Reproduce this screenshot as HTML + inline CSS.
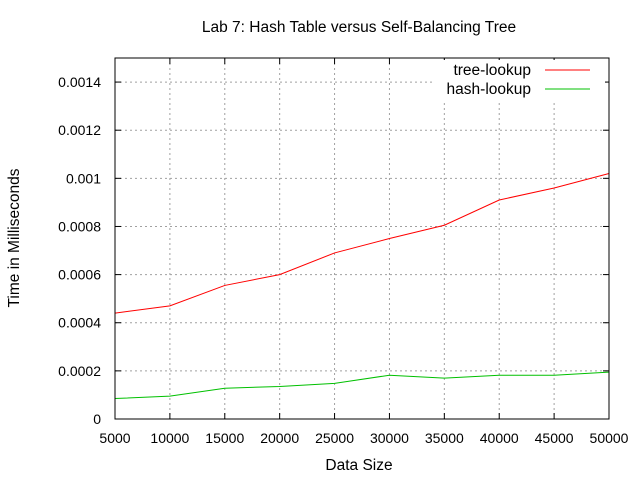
<!DOCTYPE html>
<html><head><style>
body{margin:0;background:#fff;}
svg text{font-family:"Liberation Sans",sans-serif;font-size:14px;fill:#000;}
svg text.big{font-size:15.5px;}
</style></head><body>
<svg id="chart" width="640" height="480">
<text class="big" x="359" y="32" text-anchor="middle">Lab 7: Hash Table versus Self-Balancing Tree</text>
<text class="big" x="359" y="470" text-anchor="middle">Data Size</text>
<text class="big" transform="translate(19,238) rotate(-90)" text-anchor="middle">Time in Milliseconds</text>
<g id="grid"></g><g id="series"></g>
<g>
<text class="big" x="531" y="75" text-anchor="end">tree-lookup</text>
<line x1="545" y1="70" x2="590" y2="70" stroke="#f00"/>
<text class="big" x="531" y="94" text-anchor="end">hash-lookup</text>
<line x1="545" y1="89" x2="590" y2="89" stroke="#00c000"/>
</g>
<rect x="115" y="58" width="494" height="361" fill="none" stroke="#000"/>
</svg>
<script>
const sizes=[5000,10000,15000,20000,25000,30000,35000,40000,45000,50000];
const treeVals=[0.00044,0.00047,0.000555,0.0006,0.00069,0.00075,0.000805,0.00091,0.00096,0.00102];
const hashVals=[0.000085,0.000095,0.000128,0.000135,0.000148,0.000182,0.00017,0.000182,0.000182,0.000195];
const yTicks=[0,0.0002,0.0004,0.0006,0.0008,0.001,0.0012,0.0014];
const yTickLabels=["0","0.0002","0.0004","0.0006","0.0008","0.001","0.0012","0.0014"];
const xTicks=[5000,10000,15000,20000,25000,30000,35000,40000,45000,50000];
const NS="http://www.w3.org/2000/svg";
const X=v=>115+(v-5000)/45000*494;
const Y=v=>419-v/0.0015*361;
const grid=document.getElementById('grid'),ser=document.getElementById('series');
function mk(tag,at,p){const e=document.createElementNS(NS,tag);for(const k in at)e.setAttribute(k,at[k]);p.appendChild(e);return e;}
yTicks.forEach((t,i)=>{const y=Y(t);
 if(i>0){const l=mk('line',{x1:115,x2:609,y1:y,y2:y,stroke:'#a0a0a0','stroke-dasharray':'2,3'},grid);
 
 }
 mk('line',{x1:115,x2:121,y1:y,y2:y,stroke:'#000'},grid);mk('line',{x1:603,x2:609,y1:y,y2:y,stroke:'#000'},grid);
 const tx=mk('text',{x:101,y:y+5,'text-anchor':'end'},grid);tx.textContent=yTickLabels[i];
 
 });
xTicks.forEach((t,i)=>{const x=X(t);
 if(i>0&&i<xTicks.length-1){const l=mk('line',{x1:x,x2:x,y1:58,y2:419,stroke:'#a0a0a0','stroke-dasharray':'2,3'},grid);
 
 }
 mk('line',{x1:x,x2:x,y1:419,y2:413,stroke:'#000'},grid);mk('line',{x1:x,x2:x,y1:58,y2:64,stroke:'#000'},grid);
 const tx=mk('text',{x:x,y:443,'text-anchor':'middle'},grid);tx.textContent=t;
 
 });
mk('rect',{x:432,y:60,width:173,height:40,fill:'#fff'},grid);
function line(vals,color,name){const p=mk('polyline',{points:vals.map((v,i)=>X(sizes[i])+','+Y(v)).join(' '),fill:'none',stroke:color},ser);
 
 }
line(treeVals,'#f00','tree-lookup-line');
line(hashVals,'#00c000','hash-lookup-line');
</script>
</body></html>
